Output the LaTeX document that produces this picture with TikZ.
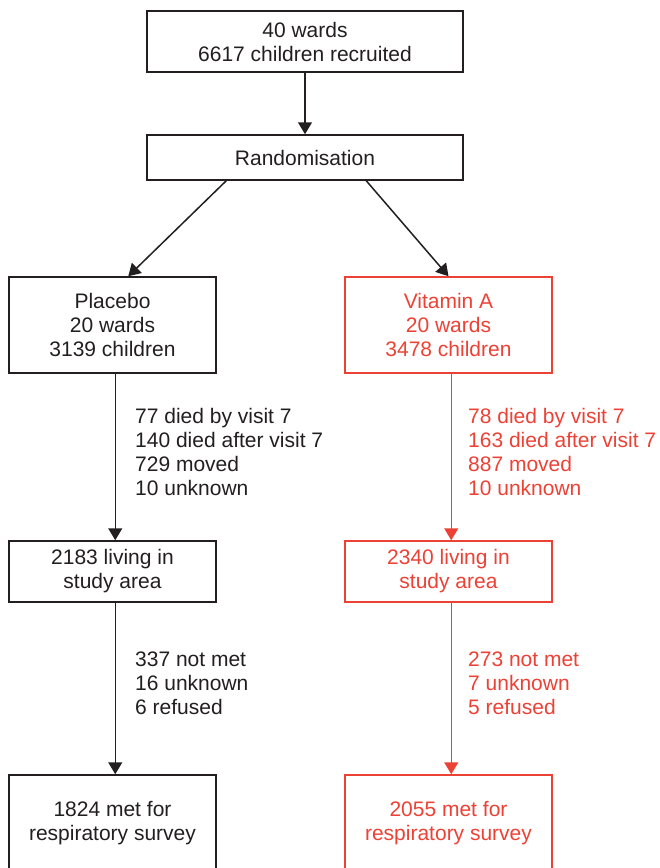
\documentclass[tikz,border=0pt]{standalone}
\usepackage{fontspec}
\setmainfont{Liberation Sans}
\usetikzlibrary{arrows.meta}
\definecolor{vitred}{RGB}{236,66,54}
\definecolor{ink}{RGB}{35,31,32}
\begin{document}
\begin{tikzpicture}[x=1pt,y=-1pt,
  every node/.style={font=\fontsize{21}{24}\selectfont},
  box/.style={draw=ink,line width=1.5pt,text=ink,align=center,inner sep=0pt,minimum width=#1},
  box/.default=207pt,
  redbox/.style={box,draw=vitred,text=vitred},
  arr/.style={draw=ink,line width=1.5pt,-{Triangle[length=12pt,width=14pt]}},
  redarr/.style={arr,draw=vitred,-{Triangle[length=12pt,width=14pt,fill=vitred]}},
  lbl/.style={anchor=west,align=left,inner sep=0pt,text=ink},
  redlbl/.style={lbl,text=vitred}]
\useasboundingbox (0,0) rectangle (660,868);
\clip (0,0) rectangle (660,868);
\fill[white] (0,0) rectangle (660,868);
% boxes
\node[box=316pt,minimum height=61pt] (top) at (305,41.5) {40 wards\\6617 children recruited};
\node[box=316pt,minimum height=45pt] (rand) at (305,157.5) {Randomisation};
\node[box,minimum height=96pt] (plac) at (112.5,325) {Placebo\\20 wards\\3139 children};
\node[redbox,minimum height=96pt] (vit) at (448.5,325) {Vitamin A\\20 wards\\3478 children};
\node[box,minimum height=61pt] (livp) at (112.5,571.5) {2183 living in\\study area};
\node[redbox,minimum height=61pt] (livv) at (448.5,571.5) {2340 living in\\study area};
\node[box,minimum height=96pt] (metp) at (112.5,823) {1824 met for\\respiratory survey};
\node[redbox,minimum height=96pt] (metv) at (448.5,823) {2055 met for\\respiratory survey};
% connectors
\draw[arr] (top.south) -- (rand.north);
\draw[arr] ([xshift=80pt]rand.south west) -- ([xshift=120pt]plac.north west);
\draw[arr] ([xshift=220pt]rand.south west) -- (vit.north);
\draw[arr] ([xshift=107pt]plac.south west) -- ([xshift=107pt]livp.north west);
\draw[arr] ([xshift=107pt]livp.south west) -- ([xshift=107pt]metp.north west);
\draw[redarr] ([xshift=107pt]vit.south west) -- ([xshift=107pt]livv.north west);
\draw[redarr] ([xshift=107pt]livv.south west) -- ([xshift=107pt]metv.north west);
% labels
\node[lbl] (lp1) at (135,451.5) {77 died by visit 7\\140 died after visit 7\\729 moved\\10 unknown};
\node[redlbl] (lv1) at (468,451.5) {78 died by visit 7\\163 died after visit 7\\887 moved\\10 unknown};
\node[lbl] (lp2) at (135,683) {337 not met\\16 unknown\\6 refused};
\node[redlbl] (lv2) at (468,683) {273 not met\\7 unknown\\5 refused};
\end{tikzpicture}
\end{document}
